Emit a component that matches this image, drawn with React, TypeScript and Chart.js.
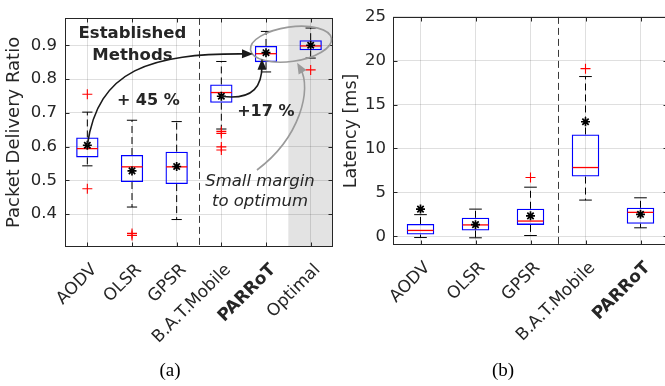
import React, { useEffect, useRef } from 'react';
import { Chart, registerables } from 'chart.js';

Chart.register(...registerables);

const SANS = '"DejaVu Sans", sans-serif';
const INK = '#262626';
const GRID = 'rgba(38,38,38,0.15)';

// ---------- Panel (a): Packet Delivery Ratio ----------
const pdrCategories = ['AODV', 'OLSR', 'GPSR', 'B.A.T.Mobile', 'PARRoT', 'Optimal'];
const pdrQ1 = [0.568, 0.495, 0.489, 0.730, 0.850, 0.885];
const pdrQ3 = [0.627, 0.575, 0.585, 0.784, 0.898, 0.915];
const pdrMedian = [0.594, 0.540, 0.540, 0.760, 0.875, 0.898];
const pdrMean = [0.604, 0.528, 0.541, 0.749, 0.878, 0.900];
const pdrWhiskerLow = [0.543, 0.421, 0.384, 0.652, 0.821, 0.862];
const pdrWhiskerHigh = [0.702, 0.678, 0.674, 0.852, 0.941, 0.951];
const pdrOutliers = [
  { x: 'AODV', y: 0.755 },
  { x: 'AODV', y: 0.475 },
  { x: 'OLSR', y: 0.343 },
  { x: 'OLSR', y: 0.337 },
  { x: 'B.A.T.Mobile', y: 0.645 },
  { x: 'B.A.T.Mobile', y: 0.639 },
  { x: 'B.A.T.Mobile', y: 0.599 },
  { x: 'B.A.T.Mobile', y: 0.590 },
  { x: 'Optimal', y: 0.827 },
];
const pdrTicks = [0.4, 0.5, 0.6, 0.7, 0.8, 0.9];
const pdrTickLabels = ['0.4', '0.5', '0.6', '0.7', '0.8', '0.9'];

// ---------- Panel (b): Latency ----------
const latCategories = ['AODV', 'OLSR', 'GPSR', 'B.A.T.Mobile', 'PARRoT'];
const latQ1 = [0.19, 0.66, 1.29, 6.8, 1.43];
const latQ3 = [1.40, 2.10, 3.13, 11.6, 3.24];
const latMedian = [0.66, 1.29, 1.73, 7.83, 2.72];
const latMean = [3.09, 1.32, 2.32, 13.05, 2.50];
const latWhiskerLow = [-0.15, -0.18, 0.08, 4.12, 0.96];
const latWhiskerHigh = [2.46, 3.09, 5.59, 18.2, 4.38];
const latOutliers = [
  { x: 'GPSR', y: 6.69 },
  { x: 'B.A.T.Mobile', y: 19.1 },
];
const latTicks = [0, 5, 10, 15, 20, 25];
const latTickLabels = ['0', '5', '10', '15', '20', '25'];

// ---------- Annotations of panel (a), in data coordinates [category index, value] ----------
type Pt = [number, number];
type Txt = { text: string; at: Pt; font: string };
type Arrow = { pts: Pt[]; color: string };
type Ell = { center: Pt; rx: number; ry: number; rot: number; color: string };

const pdrTexts: Txt[] = [
  { text: 'Established', at: [1.01, 0.9224], font: `bold 16.5px ${SANS}` },
  { text: 'Methods', at: [1.01, 0.8569], font: `bold 16.5px ${SANS}` },
  { text: '+ 45 %', at: [1.365, 0.7221], font: `bold 16px ${SANS}` },
  { text: '+17 %', at: [3.995, 0.6903], font: `bold 16px ${SANS}` },
  { text: 'Small margin', at: [3.865, 0.4845], font: `italic 16.5px ${SANS}` },
  { text: 'to optimum', at: [3.865, 0.4239], font: `italic 16.5px ${SANS}` },
];
const pdrArrows: Arrow[] = [
  { pts: [[0, pdrMean[0]], [0.239, 0.828], [1.403, 0.877], [3.709, 0.8742]], color: '#1a1a1a' },
  { pts: [[3, pdrMean[3]], [3.753, 0.7357], [3.91, 0.7847], [3.91, 0.8598]], color: '#1a1a1a' },
  { pts: [[3.798, 0.5307], [4.763, 0.626], [5.032, 0.7703], [4.697, 0.8482]], color: '#9a9a9a' },
];
const pdrEllipse: Ell = { center: [4.559, 0.9031], rx: 0.915, ry: 0.051, rot: -0.14, color: '#9a9a9a' };

type PanelProps = {
  categories: string[];
  q1: number[];
  q3: number[];
  median: number[];
  mean: number[];
  whiskerLow: number[];
  whiskerHigh: number[];
  outliers: { x: string; y: number }[];
  ticks: number[];
  tickLabels: string[];
  yMin: number;
  yMax: number;
  yTitle: string;
  yTitleSize: number;
  boldIndex: number;
  shade: number[] | null;
  separator: number;
  width: number;
  height: number;
  yAxisWidth: number;
  xAxisHeight: number;
  padTop: number;
  padRight: number;
  titlePad: number;
  yTickPad: number;
  texts?: Txt[];
  arrows?: Arrow[];
  ellipse?: Ell;
};

function BoxPanel(p: PanelProps) {
  const ref = useRef<HTMLCanvasElement>(null);

  useEffect(() => {
    const canvas = ref.current;
    if (!canvas) return;

    const P = (chart: any, pt: Pt) => [
      chart.scales.x.getPixelForValue(pt[0]),
      chart.scales.y.getPixelForValue(pt[1]),
    ];

    const plugin = {
      id: 'boxplotExtras',
      beforeDraw(chart: any) {
        if (!p.shade) return;
        const { ctx, chartArea: a, scales } = chart;
        const x0 = scales.x.getPixelForValue(p.shade[0]);
        const x1 = scales.x.getPixelForValue(p.shade[1]);
        ctx.save();
        ctx.fillStyle = '#e3e3e3';
        ctx.fillRect(x0, a.top, x1 - x0, a.bottom - a.top);
        ctx.restore();
      },
      beforeDatasetsDraw(chart: any) {
        const { ctx, chartArea: a, scales } = chart;
        const { x, y } = scales;
        ctx.save();
        // separator
        const sx = Math.round(x.getPixelForValue(p.separator)) + 0.5;
        ctx.strokeStyle = '#3a3a3a';
        ctx.lineWidth = 1;
        ctx.setLineDash([7, 4]);
        ctx.beginPath();
        ctx.moveTo(sx, a.top);
        ctx.lineTo(sx, a.bottom);
        ctx.stroke();
        // whiskers
        p.categories.forEach((_, i) => {
          const xc = x.getPixelForValue(i);
          ctx.strokeStyle = '#000';
          ctx.lineWidth = 1;
          ctx.setLineDash([7, 4]);
          ctx.beginPath();
          ctx.moveTo(xc, y.getPixelForValue(p.q3[i]));
          ctx.lineTo(xc, y.getPixelForValue(p.whiskerHigh[i]));
          ctx.moveTo(xc, y.getPixelForValue(p.q1[i]));
          ctx.lineTo(xc, y.getPixelForValue(p.whiskerLow[i]));
          ctx.stroke();
          ctx.setLineDash([]);
          const half = x.getPixelForValue(i + 0.115) - xc;
          ctx.beginPath();
          const yh = y.getPixelForValue(p.whiskerHigh[i]);
          const yl = y.getPixelForValue(p.whiskerLow[i]);
          ctx.moveTo(xc - half, yh);
          ctx.lineTo(xc + half, yh);
          ctx.moveTo(xc - half, yl);
          ctx.lineTo(xc + half, yl);
          ctx.stroke();
        });
        ctx.restore();
      },
      afterDatasetDraw(chart: any, args: any) {
        if (args.index !== 0) return;
        const { ctx, scales } = chart;
        const { x, y } = scales;
        ctx.save();
        ctx.strokeStyle = '#ff0000';
        ctx.lineWidth = 1.3;
        p.categories.forEach((_, i) => {
          const x0 = x.getPixelForValue(i - 0.235);
          const x1 = x.getPixelForValue(i + 0.235);
          const ym = y.getPixelForValue(p.median[i]);
          ctx.beginPath();
          ctx.moveTo(x0, ym);
          ctx.lineTo(x1, ym);
          ctx.stroke();
        });
        ctx.restore();
      },
      afterDraw(chart: any) {
        const { ctx, chartArea: a, scales } = chart;
        const { x, y } = scales;
        ctx.save();
        // frame
        ctx.strokeStyle = INK;
        ctx.lineWidth = 1;
        ctx.setLineDash([]);
        const L = Math.round(a.left) + 0.5;
        const R = Math.round(a.right) - 0.5;
        const T = Math.round(a.top) + 0.5;
        const B = Math.round(a.bottom) - 0.5;
        ctx.strokeRect(L, T, R - L, B - T);
        // inward ticks
        ctx.beginPath();
        p.ticks.forEach((t) => {
          const yy = Math.round(y.getPixelForValue(t)) + 0.5;
          ctx.moveTo(L, yy);
          ctx.lineTo(L + 4, yy);
          ctx.moveTo(R, yy);
          ctx.lineTo(R - 4, yy);
        });
        p.categories.forEach((_, i) => {
          const xx = Math.round(x.getPixelForValue(i)) + 0.5;
          ctx.moveTo(xx, B);
          ctx.lineTo(xx, B - 4);
          ctx.moveTo(xx, T);
          ctx.lineTo(xx, T + 4);
        });
        ctx.stroke();

        // ellipse
        if (p.ellipse) {
          const e = p.ellipse;
          const [cx, cy] = P(chart, e.center);
          const rx = Math.abs(x.getPixelForValue(e.center[0] + e.rx) - cx);
          const ry = Math.abs(y.getPixelForValue(e.center[1] + e.ry) - cy);
          ctx.strokeStyle = e.color;
          ctx.lineWidth = 1.6;
          ctx.beginPath();
          ctx.ellipse(cx, cy, rx, ry, e.rot, 0, Math.PI * 2);
          ctx.stroke();
        }
        // arrows
        (p.arrows || []).forEach((ar) => {
          const pts = ar.pts.map((pt) => P(chart, pt));
          ctx.strokeStyle = ar.color;
          ctx.fillStyle = ar.color;
          ctx.lineWidth = 1.6;
          const [p0, p1, p2, p3] = pts;
          let dx = p3[0] - p2[0];
          let dy = p3[1] - p2[1];
          const len = Math.hypot(dx, dy) || 1;
          dx /= len;
          dy /= len;
          const HL = 11;
          const HW = 4.5;
          ctx.beginPath();
          ctx.moveTo(p0[0], p0[1]);
          ctx.bezierCurveTo(p1[0], p1[1], p2[0], p2[1], p3[0] - dx * HL * 0.6, p3[1] - dy * HL * 0.6);
          ctx.stroke();
          const bx = p3[0] - dx * HL;
          const by = p3[1] - dy * HL;
          ctx.beginPath();
          ctx.moveTo(p3[0], p3[1]);
          ctx.lineTo(bx - dy * HW, by + dx * HW);
          ctx.lineTo(bx + dy * HW, by - dx * HW);
          ctx.closePath();
          ctx.fill();
        });
        // texts
        (p.texts || []).forEach((t) => {
          const [tx, ty] = P(chart, t.at);
          ctx.font = t.font;
          ctx.fillStyle = INK;
          ctx.textAlign = 'center';
          ctx.textBaseline = 'alphabetic';
          ctx.fillText(t.text, tx, ty);
        });
        ctx.restore();
      },
    };

    const chart = new Chart(canvas, {
      type: 'bar',
      data: {
        labels: p.categories,
        datasets: [
          {
            type: 'bar',
            data: p.q1.map((v, i) => [v, p.q3[i]]),
            backgroundColor: 'rgba(0,0,0,0)',
            borderColor: '#0000ff',
            borderWidth: 1.3,
            borderSkipped: false,
            categoryPercentage: 1,
            barPercentage: 0.5,
            order: 3,
          } as any,
          {
            type: 'line',
            data: p.outliers as any,
            showLine: false,
            pointStyle: 'cross',
            pointRadius: 5,
            pointBorderWidth: 1.1,
            pointBorderColor: '#ff0000',
            borderColor: '#ff0000',
            order: 2,
          } as any,
          {
            type: 'line',
            data: p.mean,
            showLine: false,
            pointStyle: 'star',
            pointRadius: 4.5,
            pointBorderWidth: 1.7,
            pointBorderColor: '#000000',
            borderColor: '#000000',
            order: 1,
          } as any,
        ],
      },
      options: {
        responsive: false,
        animation: false,
        devicePixelRatio: 1,
        events: [],
        layout: { padding: { left: 0, top: p.padTop, right: p.padRight, bottom: 0 } },
        plugins: { legend: { display: false }, tooltip: { enabled: false } },
        scales: {
          x: {
            type: 'category',
            offset: true,
            grid: { offset: false, color: GRID, drawTicks: false, lineWidth: 1 },
            border: { display: false },
            ticks: {
              autoSkip: false,
              minRotation: 45,
              maxRotation: 45,
              padding: 13,
              labelOffset: 7,
              color: INK,
              font: (ctx: any) => ({
                family: SANS,
                size: 17,
                weight: ctx.index === p.boldIndex ? 'bold' : 'normal',
              }),
            },
            afterFit: (s: any) => {
              s.height = p.xAxisHeight;
            },
          },
          y: {
            type: 'linear',
            min: p.yMin,
            max: p.yMax,
            grid: { color: GRID, drawTicks: false, lineWidth: 1 },
            border: { display: false },
            afterBuildTicks: (s: any) => {
              s.ticks = p.ticks.map((v) => ({ value: v }));
            },
            ticks: {
              padding: p.yTickPad,
              color: INK,
              font: { family: SANS, size: 16.5 },
              callback: (_v: any, i: number) => p.tickLabels[i],
            },
            title: {
              display: true,
              text: p.yTitle,
              color: INK,
              font: { family: SANS, size: p.yTitleSize },
              padding: { top: p.titlePad, bottom: 0 },
            },
            afterFit: (s: any) => {
              s.width = p.yAxisWidth;
            },
          },
        },
      } as any,
      plugins: [plugin as any],
    });

    return () => chart.destroy();
  }, []);

  return <canvas ref={ref} width={p.width} height={p.height} style={{ display: 'block' }} />;
}

export default function App() {
  const caption: React.CSSProperties = {
    position: 'absolute',
    top: 359,
    textAlign: 'center',
    fontFamily: '"Liberation Serif", "Times New Roman", serif',
    fontSize: 19,
    lineHeight: '22px',
    color: '#000',
  };
  return (
    <div
      style={{
        position: 'absolute',
        left: 0,
        top: 0,
        width: 665,
        height: 386,
        background: '#fff',
        overflow: 'hidden',
      }}
    >
      <div style={{ position: 'absolute', left: 0, top: 0 }}>
        <BoxPanel
          categories={pdrCategories}
          q1={pdrQ1}
          q3={pdrQ3}
          median={pdrMedian}
          mean={pdrMean}
          whiskerLow={pdrWhiskerLow}
          whiskerHigh={pdrWhiskerHigh}
          outliers={pdrOutliers}
          ticks={pdrTicks}
          tickLabels={pdrTickLabels}
          yMin={0.3027}
          yMax={0.981}
          yTitle="Packet Delivery Ratio"
          yTitleSize={18}
          boldIndex={4}
          shade={[4.5, 5.5]}
          separator={2.5}
          width={340}
          height={386}
          yAxisWidth={65}
          xAxisHeight={139}
          padTop={12}
          padRight={7}
          titlePad={4}
          yTickPad={8}
          texts={pdrTexts}
          arrows={pdrArrows}
          ellipse={pdrEllipse}
        />
      </div>
      <div style={{ position: 'absolute', left: 336, top: 0, width: 329, height: 386, overflow: 'hidden' }}>
        <BoxPanel
          categories={latCategories}
          q1={latQ1}
          q3={latQ3}
          median={latMedian}
          mean={latMean}
          whiskerLow={latWhiskerLow}
          whiskerHigh={latWhiskerHigh}
          outliers={latOutliers}
          ticks={latTicks}
          tickLabels={latTickLabels}
          yMin={-1}
          yMax={25}
          yTitle="Latency [ms]"
          yTitleSize={17.5}
          boldIndex={4}
          shade={null}
          separator={2.5}
          width={340}
          height={386}
          yAxisWidth={57}
          xAxisHeight={141}
          padTop={9}
          padRight={8}
          titlePad={5}
          yTickPad={7}
        />
      </div>
      <div style={{ ...caption, left: 0, width: 340 }}>(a)</div>
      <div style={{ ...caption, left: 336, width: 334 }}>(b)</div>
    </div>
  );
}
